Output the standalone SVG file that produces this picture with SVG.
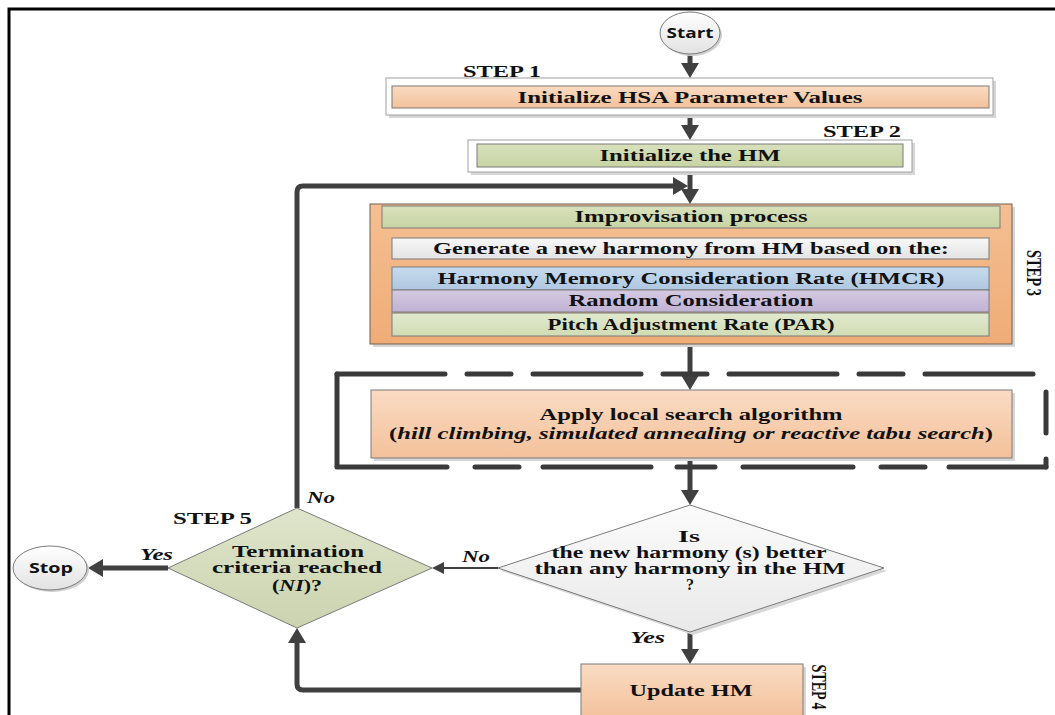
<svg xmlns="http://www.w3.org/2000/svg" width="1055" height="715" viewBox="0 0 1055 715">
  <style>
    .t { font-family: "Liberation Serif", "Times New Roman", serif; font-weight: bold; fill: #111; }
    .box { font-size: 17px; text-anchor: middle; }
    .step { font-size: 17px; }
    .vstep { font-size: 16px; text-anchor: middle; }
    .lbl { font-size: 16px; font-style: italic; }
    .dia { font-size: 16px; text-anchor: middle; }
    .sans { font-family: "Open Sans", "Liberation Sans", sans-serif; font-weight: bold; font-size: 14px; fill: #111; text-anchor: middle; }
    .conn { fill: none; stroke: #404040; stroke-width: 5; }
    .thin { fill: none; stroke: #404040; stroke-width: 2; }
    .edge { stroke: #7a7a7a; stroke-width: 1; }
    .shadow { fill: #d6d6d6; }
    .dash { fill: none; stroke: #3a3a3a; stroke-width: 5; stroke-linecap: round; }
  </style>
  <defs>
    <linearGradient id="gOrange" x1="0" y1="0" x2="0" y2="1">
      <stop offset="0" stop-color="#fadbc3"/>
      <stop offset="1" stop-color="#f3c19a"/>
    </linearGradient>
    <linearGradient id="gOrangeBig" x1="0" y1="0" x2="0" y2="1">
      <stop offset="0" stop-color="#f5bf92"/>
      <stop offset="1" stop-color="#efac77"/>
    </linearGradient>
    <linearGradient id="gGreen" x1="0" y1="0" x2="0" y2="1">
      <stop offset="0" stop-color="#d8e1bd"/>
      <stop offset="1" stop-color="#c8d4a3"/>
    </linearGradient>
    <linearGradient id="gGreenLight" x1="0" y1="0" x2="0" y2="1">
      <stop offset="0" stop-color="#e1e9cd"/>
      <stop offset="1" stop-color="#d1dcb4"/>
    </linearGradient>
    <linearGradient id="gGray" x1="0" y1="0" x2="0" y2="1">
      <stop offset="0" stop-color="#f8f8f8"/>
      <stop offset="1" stop-color="#e3e3e3"/>
    </linearGradient>
    <linearGradient id="gBlue" x1="0" y1="0" x2="0" y2="1">
      <stop offset="0" stop-color="#c7dbee"/>
      <stop offset="1" stop-color="#aec7e0"/>
    </linearGradient>
    <linearGradient id="gPurple" x1="0" y1="0" x2="0" y2="1">
      <stop offset="0" stop-color="#d5cae2"/>
      <stop offset="1" stop-color="#c0b2d3"/>
    </linearGradient>
    <linearGradient id="gDia1" x1="0" y1="0" x2="0" y2="1">
      <stop offset="0" stop-color="#fbfbfb"/>
      <stop offset="1" stop-color="#e9e9e9"/>
    </linearGradient>
    <linearGradient id="gDia2" x1="0" y1="0" x2="0" y2="1">
      <stop offset="0" stop-color="#dfe5cb"/>
      <stop offset="1" stop-color="#cbd3af"/>
    </linearGradient>
    <linearGradient id="gOval" x1="0" y1="0" x2="0" y2="1">
      <stop offset="0" stop-color="#ffffff"/>
      <stop offset="1" stop-color="#e2e2e2"/>
    </linearGradient>
    <marker id="arrow" markerUnits="userSpaceOnUse" markerWidth="16" markerHeight="20" viewBox="0 -10 16 20" refX="0" refY="0" orient="auto">
      <path d="M0,-9 L15,0 L0,9 z" fill="#404040"/>
    </marker>
    <marker id="arrowThin" markerUnits="userSpaceOnUse" markerWidth="14" markerHeight="14" viewBox="0 -7 14 14" refX="0" refY="0" orient="auto">
      <path d="M0,-6 L12,0 L0,6 z" fill="#404040"/>
    </marker>
  </defs>

  <rect width="1055" height="715" fill="#ffffff"/>
  <!-- page frame -->
  <path d="M9,715 V9 H1055" fill="none" stroke="#000" stroke-width="3"/>

  <!-- connectors -->
  <g id="connectors">
    <path class="conn" d="M690,54 V63" marker-end="url(#arrow)"/>
    <path class="conn" d="M690,115 V125" marker-end="url(#arrow)"/>
    <path class="conn" d="M690,172 V189" marker-end="url(#arrow)"/>
    <path class="conn" d="M297,508 V192 Q297,186 303,186 H673" marker-end="url(#arrow)"/>
    <path class="conn" d="M690,344 V375" marker-end="url(#arrow)"/>
    <path class="conn" d="M690,458 V490" marker-end="url(#arrow)"/>
    <path class="conn" d="M690,632 V649" marker-end="url(#arrow)"/>
    <path class="thin" d="M498,568 H444" marker-end="url(#arrowThin)"/>
    <path class="conn" d="M168,568 H103" marker-end="url(#arrow)"/>
    <path class="conn" d="M581,690 H303 Q297,690 297,684 V643" marker-end="url(#arrow)"/>
  </g>

  <!-- Start -->
  <g id="start">
    <ellipse cx="692" cy="35" rx="30" ry="21" fill="#d0d0d0"/>
    <ellipse cx="690" cy="33" rx="30" ry="21" fill="url(#gOval)" stroke="#7a7a7a"/>
    <text class="sans" x="690" y="38" font-size="15" textLength="47" lengthAdjust="spacingAndGlyphs">Start</text>
  </g>

  <!-- Step 1 -->
  <g id="step1">
    <text class="t step" x="463" y="77" textLength="78" lengthAdjust="spacingAndGlyphs">STEP 1</text>
    <rect class="shadow" x="389" y="81" width="607" height="37"/>
    <rect x="386" y="78" width="607" height="37" fill="#fff" stroke="#a0a0a0"/>
    <rect x="392" y="86" width="597" height="22" fill="url(#gOrange)" class="edge"/>
    <text class="t box" x="690" y="103" textLength="345" lengthAdjust="spacingAndGlyphs">Initialize HSA Parameter Values</text>
  </g>

  <!-- Step 2 -->
  <g id="step2">
    <text class="t step" x="823" y="137" textLength="78" lengthAdjust="spacingAndGlyphs">STEP 2</text>
    <rect class="shadow" x="471" y="143" width="444" height="32"/>
    <rect x="468" y="140" width="444" height="32" fill="#fff" stroke="#a0a0a0"/>
    <rect x="477" y="144" width="426" height="23" fill="url(#gGreen)" class="edge"/>
    <text class="t box" x="690" y="161" textLength="181" lengthAdjust="spacingAndGlyphs">Initialize the HM</text>
  </g>

  <!-- Step 3: improvisation -->
  <g id="step3">
    <rect class="shadow" x="373" y="207" width="642" height="140"/>
    <rect x="370" y="204" width="642" height="140" fill="url(#gOrangeBig)" stroke="#6f5f52"/>
    <rect x="382" y="206" width="618" height="22" fill="url(#gGreen)" class="edge"/>
    <text class="t box" x="691" y="222" textLength="233" lengthAdjust="spacingAndGlyphs">Improvisation process</text>
    <rect x="392" y="238" width="597" height="21" fill="url(#gGray)" class="edge"/>
    <text class="t box" x="691" y="254" textLength="516" lengthAdjust="spacingAndGlyphs">Generate a new harmony from HM based on the:</text>
    <rect x="392" y="267" width="597" height="23" fill="url(#gBlue)" class="edge"/>
    <text class="t box" x="691" y="284" textLength="507" lengthAdjust="spacingAndGlyphs">Harmony Memory Consideration Rate (HMCR)</text>
    <rect x="392" y="290" width="597" height="22" fill="url(#gPurple)" class="edge"/>
    <text class="t box" x="691" y="306" textLength="245" lengthAdjust="spacingAndGlyphs">Random Consideration</text>
    <rect x="392" y="313" width="597" height="23" fill="url(#gGreenLight)" class="edge"/>
    <text class="t box" x="691" y="330" textLength="287" lengthAdjust="spacingAndGlyphs">Pitch Adjustment Rate (PAR)</text>
    <text class="t vstep" transform="translate(1027,273) scale(1.35,1) rotate(90)" textLength="46" lengthAdjust="spacingAndGlyphs">STEP 3</text>
  </g>

  <!-- local search (dashed frame) -->
  <g id="localsearch">
    <path class="dash" d="M337,466 V374"/>
    <path class="dash" d="M337,374 H1044" stroke-dasharray="108 22 44 22"/>
    <path class="dash" d="M1046,392 V433"/>
    <path class="dash" d="M1046,459 V467"/>
    <path class="dash" d="M337,467 H1046" stroke-dasharray="110 28 44 24 108 26 38 28"/>
    <rect class="shadow" x="374" y="393" width="641" height="68"/>
    <rect x="371" y="390" width="641" height="68" fill="url(#gOrange)" stroke="#7a7a7a"/>
    <text class="t box" x="691" y="420" textLength="303" lengthAdjust="spacingAndGlyphs">Apply local search algorithm</text>
    <text class="t" x="691" y="439" font-size="16" text-anchor="middle" textLength="604" lengthAdjust="spacingAndGlyphs">(<tspan font-style="italic">hill climbing, simulated annealing or reactive tabu search</tspan>)</text>
  </g>

  <!-- decision: better harmony -->
  <g id="decision-better">
    <polygon points="693,508 887,571 693,635 501,571" fill="#d8d8d8"/>
    <polygon points="690,505 884,568 690,632 498,568" fill="url(#gDia1)" stroke="#7a7a7a"/>
    <text class="t dia" x="689" y="542" textLength="22" lengthAdjust="spacingAndGlyphs">Is</text>
    <text class="t dia" x="689" y="558" textLength="275" lengthAdjust="spacingAndGlyphs">the new harmony (s) better</text>
    <text class="t dia" x="690" y="574" textLength="311" lengthAdjust="spacingAndGlyphs">than any harmony in the HM</text>
    <text class="t dia" x="690" y="590">?</text>
  </g>

  <!-- decision: termination -->
  <g id="decision-termination">
    <text class="t step" x="173" y="524" textLength="79" lengthAdjust="spacingAndGlyphs">STEP 5</text>
    <polygon points="297,508 432,568 297,628 168,568" fill="url(#gDia2)" stroke="#7a7a7a"/>
    <text class="t dia" x="298" y="557" textLength="132" lengthAdjust="spacingAndGlyphs">Termination</text>
    <text class="t dia" x="297" y="573" textLength="170" lengthAdjust="spacingAndGlyphs">criteria reached</text>
    <text class="t dia" x="297" y="591" textLength="50" lengthAdjust="spacingAndGlyphs">(<tspan font-style="italic">NI</tspan>)?</text>
  </g>

  <!-- Stop -->
  <g id="stop">
    <ellipse cx="52" cy="570" rx="37" ry="22" fill="#d0d0d0"/>
    <ellipse cx="50" cy="568" rx="37" ry="22" fill="url(#gOval)" stroke="#7a7a7a"/>
    <text class="sans" x="51" y="573" textLength="44" lengthAdjust="spacingAndGlyphs">Stop</text>
  </g>

  <!-- Step 4: update -->
  <g id="step4">
    <rect class="shadow" x="584" y="667" width="222" height="52"/>
    <rect x="581" y="664" width="222" height="55" fill="url(#gOrange)" stroke="#7a7a7a"/>
    <text class="t box" x="691" y="696" textLength="123" lengthAdjust="spacingAndGlyphs">Update HM</text>
    <text class="t vstep" transform="translate(812,687) scale(1.35,1) rotate(90)" textLength="45" lengthAdjust="spacingAndGlyphs">STEP 4</text>
  </g>

  <!-- branch labels -->
  <g id="labels">
    <text class="t lbl" x="307" y="503" textLength="28" lengthAdjust="spacingAndGlyphs">No</text>
    <text class="t lbl" x="462" y="562" textLength="28" lengthAdjust="spacingAndGlyphs">No</text>
    <text class="t lbl" x="140" y="560" textLength="33" lengthAdjust="spacingAndGlyphs">Yes</text>
    <text class="t lbl" x="630" y="643" textLength="35" lengthAdjust="spacingAndGlyphs">Yes</text>
  </g>
</svg>
